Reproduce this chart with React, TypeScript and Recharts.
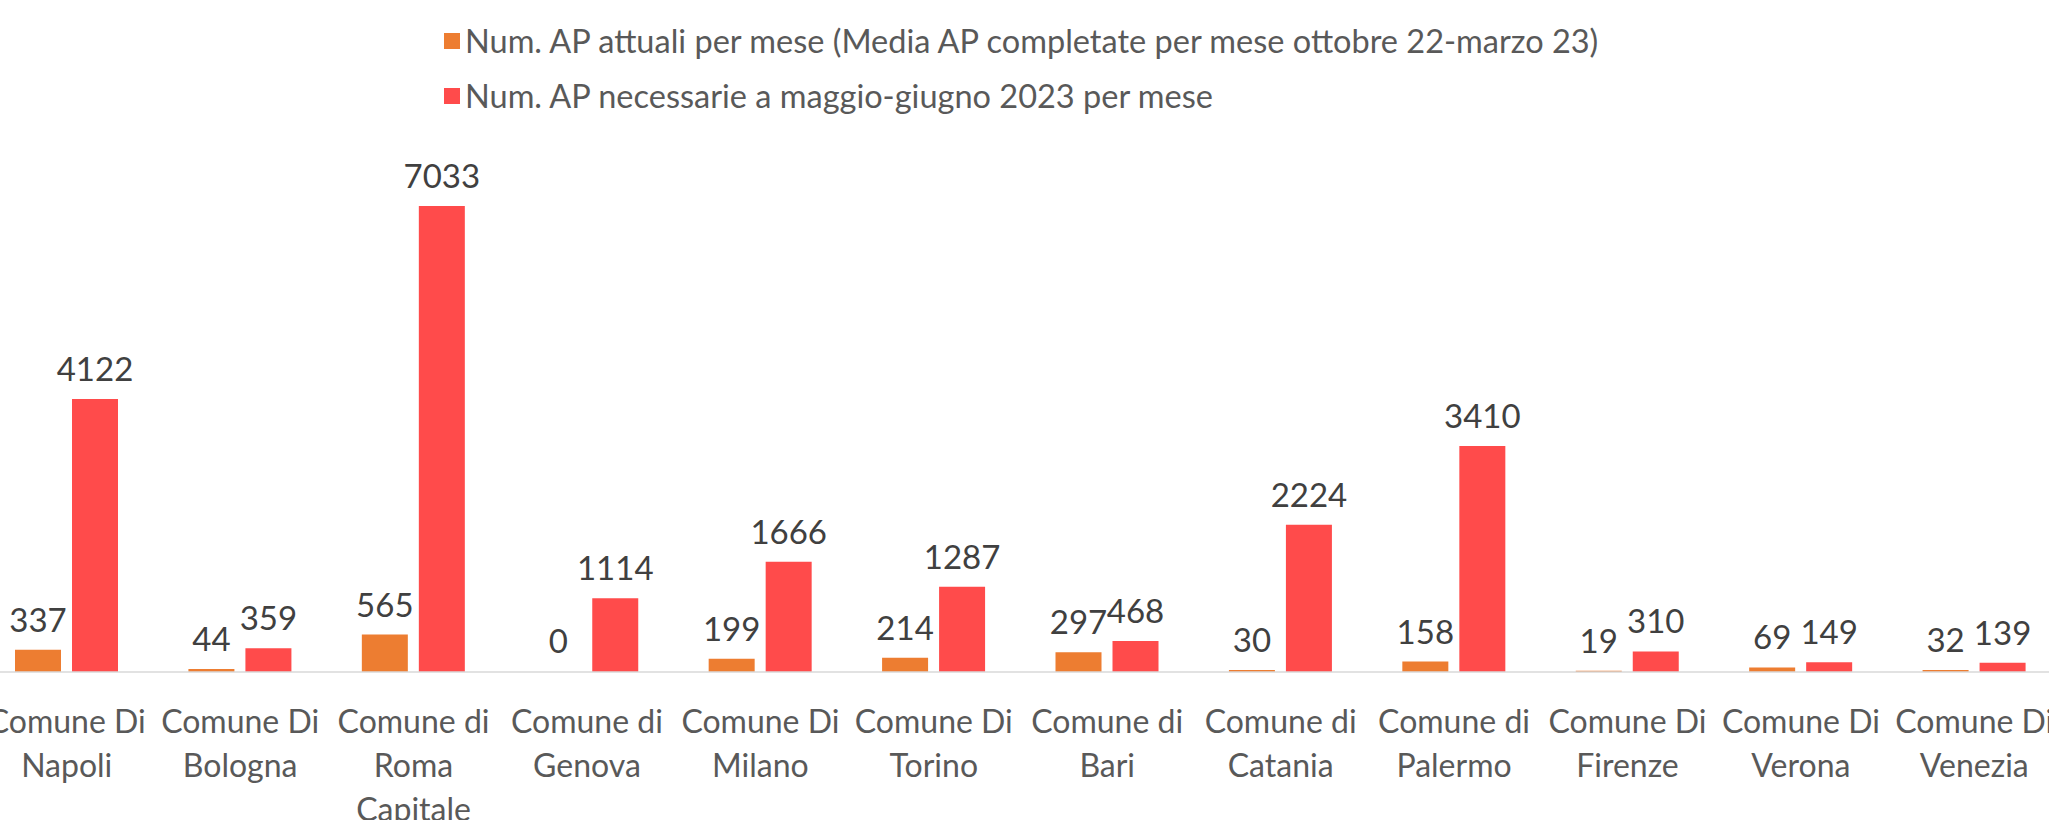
import React from 'react';
import { BarChart, Bar, XAxis, YAxis, LabelList, Rectangle } from 'recharts';

const cities = [
  'Comune Di\nNapoli',
  'Comune Di\nBologna',
  'Comune di\nRoma\nCapitale',
  'Comune di\nGenova',
  'Comune Di\nMilano',
  'Comune Di\nTorino',
  'Comune di\nBari',
  'Comune di\nCatania',
  'Comune di\nPalermo',
  'Comune Di\nFirenze',
  'Comune Di\nVerona',
  'Comune Di\nVenezia',
];
const attuali = [337, 44, 565, 0, 199, 214, 297, 30, 158, 19, 69, 32];
const necessarie = [4122, 359, 7033, 1114, 1666, 1287, 468, 2224, 3410, 310, 149, 139];

const seriesNames = [
  'Num. AP attuali per mese (Media AP completate per mese ottobre 22-marzo 23)',
  'Num. AP necessarie a maggio-giugno 2023 per mese',
];
const colors = ['#ED7D31', '#FF4B4B'];

const data = cities.map((name, i) => ({ name, attuali: attuali[i], necessarie: necessarie[i] }));

const FONT = 'Lato, "Open Sans", sans-serif';

const CityTick = (props: any) => {
  const { x, y, payload } = props;
  const lines: string[] = payload.value.split('\n');
  return (
    <g transform={`translate(${x},${y})`}>
      {lines.map((l, i) => (
        <text key={i} x={0} y={48 + i * 44} textAnchor="middle" dominantBaseline="central"
          fill="#595959" fontSize={32} fontFamily={FONT}>{l}</text>
      ))}
    </g>
  );
};

const ValueLabel = (props: any) => {
  const { x, y, width, value } = props;
  return (
    <text x={x + width / 2} y={y - 18} textAnchor="middle" fill="#404040" fontSize={33} fontFamily={FONT}>
      {value}
    </text>
  );
};

// zero-valued bars get a 1px stub so their "0" label is kept, but the stub is not painted
const BarShape = (props: any) => {
  if (props.payload && props.payload.attuali === 0 && props.height <= 1.01) return <g />;
  return <Rectangle {...props} />;
};

export default function App() {
  return (
    <div style={{ position: 'absolute', left: 0, top: 0, width: 2049, height: 820, overflow: 'hidden', background: '#fff' }}>
      <div style={{ position: 'absolute', left: 444, top: 13, fontFamily: FONT, fontSize: 32.5, color: '#595959' }}>
        {seriesNames.map((s, i) => (
          <div key={i} style={{ display: 'flex', alignItems: 'center', height: 55, whiteSpace: 'nowrap' }}>
            <span style={{ width: 16, height: 16, background: colors[i], display: 'inline-block', marginRight: 5 }} />
            <span>{s}</span>
          </div>
        ))}
      </div>
      <div style={{ position: 'absolute', left: -20, top: 0 }}>
        <BarChart width={2081} height={820} data={data} barSize={46} barGap={11}
          margin={{ top: 142, right: 0, bottom: 0, left: 0 }}>
          <XAxis dataKey="name" interval={0} tickLine={false} tickSize={0} tickMargin={0}
            height={148} axisLine={{ stroke: '#D9D9D9', strokeWidth: 1.5 }} tick={<CityTick />} />
          <YAxis hide domain={[0, 8000]} />
          <Bar dataKey="attuali" fill={colors[0]} minPointSize={1} shape={<BarShape />} isAnimationActive={false}>
            <LabelList dataKey="attuali" content={<ValueLabel />} />
          </Bar>
          <Bar dataKey="necessarie" fill={colors[1]} isAnimationActive={false}>
            <LabelList dataKey="necessarie" content={<ValueLabel />} />
          </Bar>
        </BarChart>
      </div>
    </div>
  );
}
